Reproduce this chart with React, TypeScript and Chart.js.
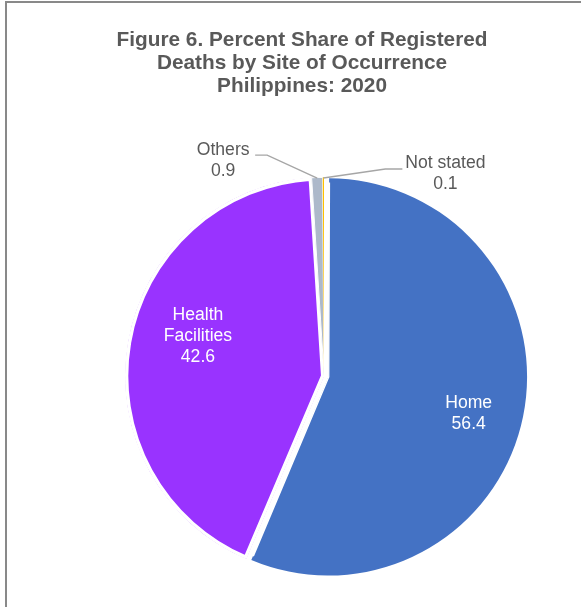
import React, { useEffect, useRef } from "react";
import { Chart, registerables } from "chart.js";

Chart.register(...registerables);

const titleLines = [
  "Figure 6. Percent Share of Registered",
  "Deaths by Site of Occurrence",
  "Philippines: 2020",
];
const categories = ["Home", "Health Facilities", "Others", "Not stated"];
const nameLines = [["Home"], ["Health", "Facilities"], ["Others"], ["Not stated"]];
const shares = [56.4, 42.6, 0.9, 0.1];
const valueLabels = ["56.4", "42.6", "0.9", "0.1"];
const sliceColors = ["#4472C4", "#9933FF", "#ADB9CA", "#FFC000"];
const sliceBorders = [1, 3, 0.6, 0];
const sliceOffsets = [18, 0, 0, 0];

const FONT = '"Liberation Sans", Arial, Helvetica, sans-serif';
const TEXT_GREY = "#595959";

// label placement styles
const labelPlacement: any[] = [
  { kind: "inside", frac: 0.745, nudge: 3 },
  { kind: "inside", frac: 0.665, nudge: 8 },
  { kind: "outside", text: [-94, -17], elbow: [-50, -23], end: [-62, -23] },
  { kind: "outside", text: [122, -4], elbow: [62, -9], end: [79, -9] },
];

const framePlugin = {
  id: "frameAndTitle",
  beforeDraw(chart: any) {
    const ctx = chart.ctx;
    ctx.save();
    ctx.fillStyle = "#ffffff";
    ctx.fillRect(0, 0, chart.width, chart.height);
    ctx.strokeStyle = "#898989";
    ctx.lineWidth = 2;
    ctx.strokeRect(6, 2, 800, 800);
    ctx.fillStyle = TEXT_GREY;
    ctx.font = `bold 20.8px ${FONT}`;
    ctx.textAlign = "center";
    ctx.textBaseline = "middle";
    titleLines.forEach((t, i) => ctx.fillText(t, 302, 40 + i * 23));
    ctx.restore();
  },
};

const explodeFix = {
  id: "explodeFix",
  afterDatasetUpdate(chart: any, args: any) {
    args.meta.data.forEach((arc: any) => {
      const o = (arc.options.offset || 0) / 4;
      if (!o) return;
      const circ = arc.endAngle - arc.startAngle;
      const fix = 1 - Math.sin(Math.min(Math.PI, circ));
      arc.outerRadius = arc.outerRadius - o * fix;
    });
  },
};

const labelPlugin = {
  id: "sliceLabels",
  afterDatasetsDraw(chart: any) {
    const ctx = chart.ctx;
    const meta = chart.getDatasetMeta(0);
    ctx.save();
    ctx.font = `17.6px ${FONT}`;
    ctx.textAlign = "center";
    ctx.textBaseline = "middle";
    meta.data.forEach((arc: any, i: number) => {
      const off = (arc.options.offset || 0) / 4;
      const mid = (arc.startAngle + arc.endAngle) / 2;
      const cx = arc.x + Math.cos(mid) * off;
      const cy = arc.y + Math.sin(mid) * off;
      const R = arc.outerRadius;
      const pl = labelPlacement[i];
      const lines = [...nameLines[i], valueLabels[i]];
      let tx: number, ty: number;
      if (pl.kind === "inside") {
        const a = mid + (pl.nudge * Math.PI) / 180;
        tx = cx + Math.cos(a) * R * pl.frac;
        ty = cy + Math.sin(a) * R * pl.frac;
        ctx.fillStyle = "#ffffff";
      } else {
        const ex = cx + Math.cos(mid) * (R - 1);
        const ey = cy + Math.sin(mid) * (R - 1);
        ctx.strokeStyle = "#A6A6A6";
        ctx.lineWidth = 1.4;
        ctx.beginPath();
        ctx.moveTo(ex, ey);
        ctx.lineTo(ex + pl.elbow[0], ey + pl.elbow[1]);
        ctx.lineTo(ex + pl.end[0], ey + pl.end[1]);
        ctx.stroke();
        tx = ex + pl.text[0];
        ty = ey + pl.text[1];
        ctx.fillStyle = TEXT_GREY;
      }
      const lh = 21;
      const y0 = ty - ((lines.length - 1) * lh) / 2;
      lines.forEach((l, k) => ctx.fillText(l, tx, y0 + k * lh));
    });
    ctx.restore();
  },
};

export default function App() {
  const ref = useRef<HTMLCanvasElement | null>(null);
  useEffect(() => {
    if (!ref.current) return;
    const chart = new Chart(ref.current, {
      type: "pie",
      data: {
        labels: categories,
        datasets: [
          {
            data: shares,
            backgroundColor: sliceColors,
            borderColor: "#ffffff",
            borderWidth: sliceBorders,
            borderAlign: "inner",
            offset: sliceOffsets,
            radius: 199,
          } as any,
        ],
      },
      options: {
        responsive: false,
        animation: false,
        events: [],
        layout: { padding: { left: 67, right: 0, top: 145, bottom: 0 } },
        plugins: {
          legend: { display: false },
          title: { display: false },
          tooltip: { enabled: false },
        },
      },
      plugins: [framePlugin, explodeFix, labelPlugin],
    });
    return () => chart.destroy();
  }, []);
  return (
    <div style={{ position: "fixed", left: 0, top: 0, width: 581, height: 607, background: "#fff" }}>
      <canvas ref={ref} width={581} height={607} style={{ display: "block" }} />
    </div>
  );
}
